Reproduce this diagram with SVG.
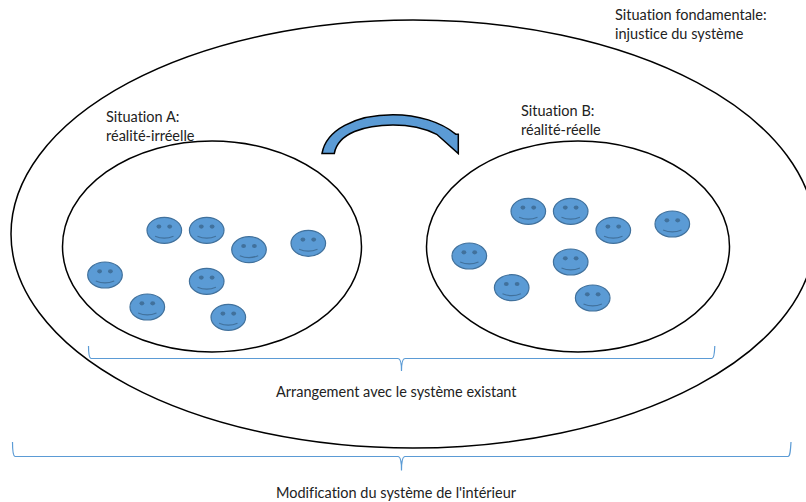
<svg xmlns="http://www.w3.org/2000/svg" xmlns:xlink="http://www.w3.org/1999/xlink" width="806" height="502" viewBox="0 0 806 502">
<style>
text{font-family:Lato,"Liberation Sans",sans-serif;font-size:14.5px;fill:#222;font-variant-ligatures:none}
.e{fill:none;stroke:#000;stroke-width:1.5}
.b{fill:none;stroke:#5b9bd5;stroke-width:1.2}
.f{fill:#5b9bd5;stroke:#41719c;stroke-width:1.2}
.m{fill:none;stroke:#41719c;stroke-width:1.2}
.k{fill:#41719c}
</style>
<defs>
<g id="s">
<ellipse class="f" cx="0" cy="0" rx="17.3" ry="13"/>
<ellipse class="k" cx="-5.400" cy="-3.700" rx="2.400" ry="2.100"/>
<ellipse class="k" cx="5.400" cy="-3.700" rx="2.400" ry="2.100"/>
<path class="m" d="M-9.200 6Q0 9.800 9.200 6"/>
</g>
</defs>
<g id="outer"><ellipse class="e" cx="413" cy="234" rx="402" ry="214"/></g>
<g id="situationA"><ellipse class="e" cx="212" cy="246.500" rx="149.500" ry="105.500"/></g>
<g id="situationB"><ellipse class="e" cx="578" cy="246.500" rx="151.500" ry="105.500"/></g>
<g id="arrow"><path d="M322 153.500C326 130 355 114.700 393 114.700C418 114.700 441 122 456 134.300H458.300V153.500L436.700 134.300C425 128.500 410 125 393 125C365 125 338 133 334.300 153.500Z" fill="#5b9bd5" stroke="#000" stroke-width="1.500"/></g>
<g id="smileysA">
<use xlink:href="#s" x="164.300" y="230.300"/><use xlink:href="#s" x="206.700" y="230.300"/><use xlink:href="#s" x="249" y="249.700"/><use xlink:href="#s" x="308.300" y="243.300"/><use xlink:href="#s" x="105" y="275"/><use xlink:href="#s" x="147.300" y="307"/><use xlink:href="#s" x="206.700" y="281.300"/><use xlink:href="#s" x="228.300" y="317.300"/>
</g>
<g id="smileysB">
<use xlink:href="#s" x="528.300" y="211.300"/><use xlink:href="#s" x="570.700" y="211.300"/><use xlink:href="#s" x="613.300" y="230.300"/><use xlink:href="#s" x="672.300" y="224"/><use xlink:href="#s" x="469.300" y="256"/><use xlink:href="#s" x="511.700" y="287.700"/><use xlink:href="#s" x="570.700" y="262"/><use xlink:href="#s" x="592.700" y="298"/>
</g>
<g id="connectors">
<path class="b" d="M88.500 346C88.500 354 89 358 91 358.500H398C400.500 358.500 401.500 362 401.500 371C401.500 362 402.500 358.500 405 358.500H712C714 358.500 714.500 354 714.800 346"/>
<path class="b" d="M12.500 442C12.500 451 13 456 15 456.500H398C400.500 456.500 401.500 461 401.500 470.500C401.500 461 402.500 456.500 405 456.500H788C790 456.500 790.500 451 791 442"/>
</g>
<g id="labels">
<text x="615" y="20">Situation fondamentale:</text>
<text x="615" y="38.500">injustice du système</text>
<text x="106" y="122">Situation A:</text>
<text x="106" y="141">réalité-irréelle</text>
<text x="521" y="116">Situation B:</text>
<text x="521" y="135">réalité-réelle</text>
<text x="276" y="397">Arrangement avec le système existant</text>
<text x="276" y="498">Modification du système de l'intérieur</text>
</g>
</svg>
